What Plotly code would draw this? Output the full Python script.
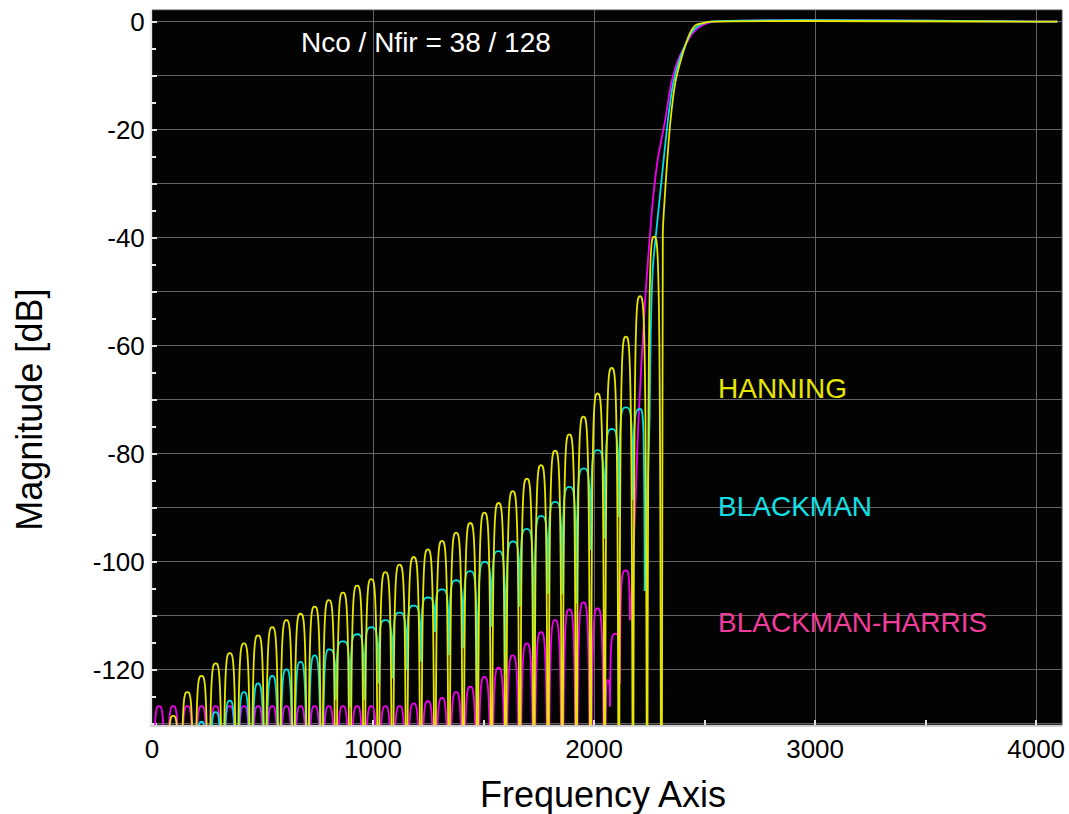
import plotly.graph_objects as go

# ---------------------------------------------------------------------------
# Frequency response of a 128-tap FIR high-pass filter for three windows.
# Stop-band side lobes sit on a 64-bin grid (nulls / lobe centres).
# ---------------------------------------------------------------------------
NULL_F = [0, 64, 128, 192, 256, 320, 384, 448, 512, 576, 640, 704, 768, 832,
          896, 960, 1024, 1088, 1152, 1216, 1280, 1344, 1408, 1472, 1536, 1600,
          1664, 1728, 1792, 1856, 1920, 1984, 2048, 2112, 2176, 2240, 2304]
LOBE_F = [32, 96, 160, 224, 288, 352, 416, 480, 544, 608, 672, 736, 800, 864,
          928, 992, 1056, 1120, 1184, 1248, 1312, 1376, 1440, 1504, 1568, 1632,
          1696, 1760, 1824, 1888, 1952, 2016, 2080, 2144, 2208, 2272]

OFF = None  # null falls below the bottom of the axis

# HANNING
HANN_PEAK_F = LOBE_F[1:36]
HANN_PEAK_DB = [-128.5, -124.1, -121.1, -118.8, -116.9, -115.1, -113.6, -112.1,
                -110.8, -109.6, -108.3, -107.1, -105.7, -104.4, -103.2, -101.9,
                -100.5, -99.1, -97.7, -96.1, -94.6, -92.8, -90.9, -89.1, -86.9,
                -84.6, -82.1, -79.4, -76.4, -73.1, -68.8, -64.1, -58.3, -50.8,
                -39.8]
HANN_NULL_F = NULL_F[1:37]
HANN_NULL_DB = [OFF, OFF, OFF, OFF, OFF, OFF, OFF, OFF, OFF, OFF, OFF, OFF,
                OFF, OFF, OFF, OFF, OFF, OFF, OFF, OFF, OFF, OFF, OFF, OFF,
                OFF, OFF, OFF, OFF, OFF, OFF, OFF, OFF, OFF, OFF, OFF, OFF]
HANN_RISE_F = [2311, 2319, 2346, 2367, 2397, 2434, 2461, 2499, 2525, 4096]
HANN_RISE_DB = [-39.0, -33.0, -18.2, -11.4, -6.5, -2.1, -0.6, -0.2, 0.0, 0.0]

# BLACKMAN
BLK_PEAK_F = LOBE_F[3:35]
BLK_PEAK_DB = [-129.6, -127.8, -125.7, -124.1, -122.5, -121.1, -119.9, -118.5,
               -117.3, -116.2, -114.7, -113.4, -112.1, -110.8, -109.4, -108.1,
               -106.6, -105.1, -103.4, -101.7, -100.0, -98.0, -96.2, -93.9,
               -91.5, -88.9, -86.1, -82.7, -79.3, -75.4, -71.4, -71.7]
BLK_NULL_F = NULL_F[3:35] + [2229]
BLK_NULL_DB = [OFF, OFF, OFF, OFF, OFF, OFF, OFF, OFF, OFF, OFF,
               -125.6, -126.9, -125.6, -122.5, -121.6, -120.1, -118.5, -113.0,
               -117.3, -116.0, -127.5, -112.0, -120.7, -108.3, -118.0, -105.9,
               -106.0, -107.7, -97.8, -95.7, -91.7, -88.6, -105.4]
BLK_RISE_F = [2240, 2251, 2256, 2266, 2281, 2296, 2334, 2358, 2391, 2439, 2477,
              2530, 4096]
BLK_RISE_DB = [-90.0, -73.8, -58.0, -45.4, -39.0, -33.0, -18.2, -11.4, -6.5,
               -2.1, -0.6, 0.0, 0.0]

# BLACKMAN-HARRIS
BH_PEAK_F = LOBE_F[0:32] + [2062, 2096, 2143]
BH_PEAK_DB = [-126.7, -126.7, -126.7, -126.7, -126.7, -126.7, -126.7, -126.7,
              -126.7, -126.7, -126.7, -126.7, -126.7, -126.7, -126.7, -126.7,
              -126.7, -126.7, -126.2, -125.8, -125.2, -124.1, -123.1, -121.3,
              -119.6, -117.3, -115.1, -113.0, -110.8, -108.8, -107.5, -108.6,
              -121.9, -113.3, -101.6]
BH_NULL_F = NULL_F[0:33] + [2072, 2117, 2162]
BH_NULL_DB = [OFF, OFF, OFF, OFF, OFF, OFF, OFF, OFF, OFF, OFF, OFF, OFF,
              OFF, OFF, OFF, OFF, OFF, OFF, OFF, OFF, OFF, OFF, OFF, OFF,
              OFF, OFF, OFF, OFF, OFF, OFF, OFF, OFF, OFF,
              -126.8, -122.5, -110.8]
BH_RISE_F = [2172, 2188, 2201, 2231, 2248, 2266, 2290, 2322, 2349, 2386, 2446,
             2492, 2544, 4096]
BH_RISE_DB = [-104.0, -88.0, -73.5, -51.5, -42.0, -33.0, -25.0, -18.2, -11.4,
              -6.5, -2.1, -0.6, 0.0, 0.0]

Y_TICK_VALUES = [-130, -120, -110, -100, -90, -80, -70, -60, -50, -40, -30,
                 -20, -10, 0]
Y_TICK_TEXT = ["", "-120", "", "-100", "", "-80", "", "-60", "", "-40", "",
               "-20", "", "0"]

YELLOW = "#e6e600"
CYAN = "#00dfe6"
MAGENTA = "#f000f0"

NULL_FLOOR = -200  # depth used for nulls that drop off the axis
FONT = "Liberation Sans, Arial, sans-serif"
LINE_W = 1.8


def depth(v):
    return NULL_FLOOR if v is None else v


def lobe_path(null_f, null_db, peak_f, peak_db):
    """Side lobes as cubic arches: steep at the nulls, rounded at the peak."""
    parts = []
    for i, (pf, pd) in enumerate(zip(peak_f, peak_db)):
        x0, x1 = null_f[i], null_f[i + 1]
        d0, d1 = depth(null_db[i]), depth(null_db[i + 1])
        hl, hr = pf - x0, x1 - pf
        parts.append(
            f"M{x0},{d0}"
            f"C{x0 + 0.08 * hl:.2f},{pd} {x0 + 0.30 * hl:.2f},{pd} {pf},{pd}"
            f"C{x1 - 0.30 * hr:.2f},{pd} {x1 - 0.08 * hr:.2f},{pd} {x1},{d1}"
        )
    return "".join(parts)


series = [
    ("BLACKMAN-HARRIS", MAGENTA, BH_NULL_F, BH_NULL_DB, BH_PEAK_F, BH_PEAK_DB,
     BH_RISE_F, BH_RISE_DB),
    ("BLACKMAN", CYAN, BLK_NULL_F, BLK_NULL_DB, BLK_PEAK_F, BLK_PEAK_DB,
     BLK_RISE_F, BLK_RISE_DB),
    ("HANNING", YELLOW, HANN_NULL_F, HANN_NULL_DB, HANN_PEAK_F, HANN_PEAK_DB,
     HANN_RISE_F, HANN_RISE_DB),
]

fig = go.Figure()
shapes = []
for name, color, nf, nd, pf, pd, rf, rd in series:
    # transition band and pass band, starting from the last stop-band null
    fig.add_trace(go.Scatter(
        x=[nf[-1]] + rf, y=[depth(nd[-1])] + rd,
        mode="lines", name=name, showlegend=False,
        line=dict(color=color, width=LINE_W, shape="spline", smoothing=0.6),
    ))
    shapes.append(dict(
        type="path", xref="x", yref="y", layer="above",
        path=lobe_path(nf, nd, pf, pd),
        line=dict(color=color, width=LINE_W),
        fillcolor="rgba(0,0,0,0)",
    ))

# dark frame round the plotting area
shapes.insert(0, dict(type="rect", xref="paper", yref="paper", x0=0, y0=0,
                      x1=1, y1=1, layer="below",
                      line=dict(color="#4a4a4a", width=1)))

annotations = [
    dict(text="Nco / Nfir = 38 / 128", x=0.301, y=0.954, xref="paper",
         yref="paper", showarrow=False, xanchor="center", yanchor="middle",
         font=dict(family=FONT, size=28, color="white")),
    dict(text="HANNING", x=0.62, y=0.470, xref="paper", yref="paper",
         showarrow=False, xanchor="left", yanchor="middle",
         font=dict(family=FONT, size=28, color=YELLOW)),
    dict(text="BLACKMAN", x=0.62, y=0.305, xref="paper", yref="paper",
         showarrow=False, xanchor="left", yanchor="middle",
         font=dict(family=FONT, size=28, color="#10e0e6")),
    dict(text="BLACKMAN-HARRIS", x=0.62, y=0.144, xref="paper", yref="paper",
         showarrow=False, xanchor="left", yanchor="middle",
         font=dict(family=FONT, size=28, color="#f23c9c")),
    dict(text="Frequency Axis", x=0.496, y=-0.097, xref="paper",
         yref="paper", showarrow=False, xanchor="center", yanchor="middle",
         font=dict(family=FONT, size=36, color="black")),
    dict(text="Magnitude [dB]", x=-0.134, y=0.441, xref="paper",
         yref="paper", showarrow=False, xanchor="center", yanchor="middle",
         textangle=-90, font=dict(family=FONT, size=36, color="black")),
]

fig.update_layout(
    width=1069, height=814,
    margin=dict(l=152, r=4, t=10, b=89),
    paper_bgcolor="white", plot_bgcolor="#030303",
    showlegend=False,
    shapes=shapes, annotations=annotations,
    font=dict(family=FONT, size=26, color="black"),
    xaxis=dict(
        range=[0, 4117], dtick=1000, tick0=0,
        showgrid=True, gridcolor="#626262", gridwidth=1,
        zeroline=False, showline=True, linecolor="#d0d0d0", linewidth=2,
        ticks="inside", ticklen=5, tickcolor="#e0e0e0", tickwidth=1.5,
        tickfont=dict(family=FONT, size=26, color="black"),
        minor=dict(dtick=500, ticks="inside", ticklen=5,
                   tickcolor="#e0e0e0", tickwidth=1.5, showgrid=False),
    ),
    yaxis=dict(
        range=[-130.2, 2.17],
        tickmode="array", tickvals=Y_TICK_VALUES, ticktext=Y_TICK_TEXT,
        showgrid=True, gridcolor="#626262", gridwidth=1,
        zeroline=False, showline=True, linecolor="#e8e8e8", linewidth=2,
        ticks="inside", ticklen=5, tickcolor="#e8e8e8", tickwidth=1.5,
        tickfont=dict(family=FONT, size=26, color="black"),
        minor=dict(dtick=5, ticks="inside", ticklen=4,
                   tickcolor="#e8e8e8", tickwidth=1.5, showgrid=False),
    ),
)

fig.write_html("out.html")
